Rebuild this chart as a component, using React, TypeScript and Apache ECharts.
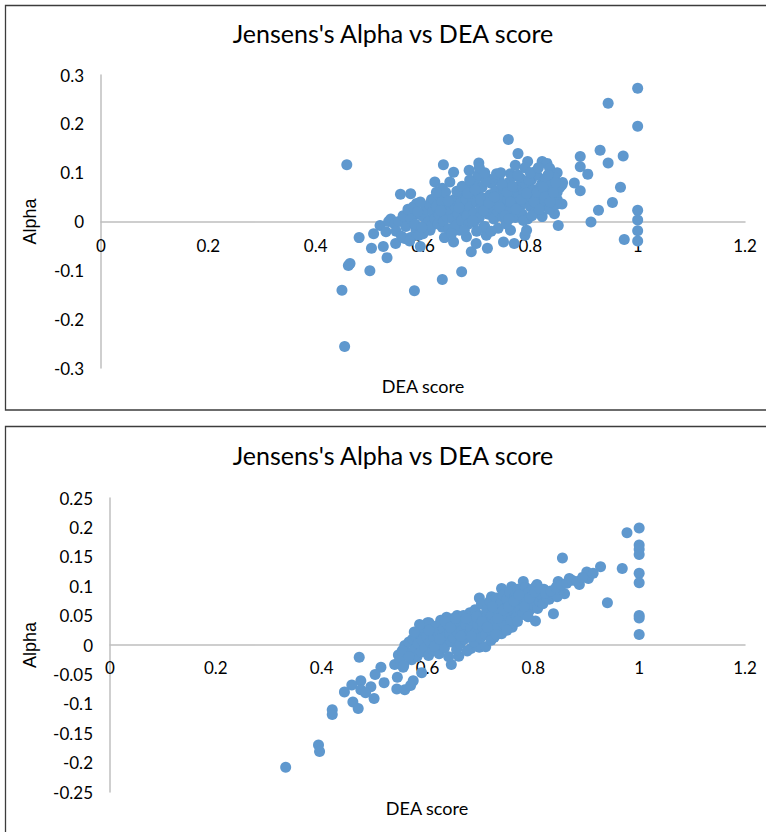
import React, { useEffect, useRef } from "react";
import * as echarts from "echarts";

const TITLE = "Jensens's Alpha vs DEA score";
const X_NAME = "DEA score";
const Y_NAME = "Alpha";

const xTicks = [0, 0.2, 0.4, 0.6, 0.8, 1, 1.2];
const yTicksTop = [-0.3, -0.2, -0.1, 0, 0.1, 0.2, 0.3];
const yTicksBottom = [-0.25, -0.2, -0.15, -0.1, -0.05, 0, 0.05, 0.1, 0.15, 0.2, 0.25];

// Top chart: [DEA score, Alpha]
const topPoints: number[][] = [
  [1.0, 0.273], [0.945, 0.242], [1.0, 0.195], [0.759, 0.168], [0.777, 0.139], [0.93, 0.146],
  [0.973, 0.134], [0.893, 0.133], [0.945, 0.12], [0.893, 0.112], [0.907, 0.097], [0.893, 0.063],
  [0.882, 0.079], [0.968, 0.07], [0.953, 0.039], [0.927, 0.023], [0.913, -0.001], [1.0, 0.023],
  [1.0, 0.003], [1.0, -0.019], [1.0, -0.04], [0.975, -0.037], [0.458, 0.116], [0.638, 0.116],
  [0.795, 0.123], [0.822, 0.123], [0.831, 0.119], [0.836, 0.109], [0.85, 0.1], [0.704, 0.12],
  [0.686, 0.105], [0.657, 0.101], [0.772, 0.115], [0.763, 0.098], [0.736, 0.09], [0.809, 0.102],
  [0.859, 0.075], [0.822, 0.079], [0.622, 0.081], [0.65, 0.081], [0.636, 0.068], [0.558, 0.056],
  [0.577, 0.057], [0.588, 0.037], [0.616, 0.045], [0.66, 0.045], [0.672, 0.048], [0.85, 0.045],
  [0.859, 0.036], [0.845, 0.016], [0.852, -0.008], [0.52, -0.008], [0.54, 0.005], [0.536, 0.0],
  [0.547, -0.005], [0.508, -0.025], [0.531, -0.021], [0.481, -0.033], [0.504, -0.055], [0.526, -0.051],
  [0.549, -0.045], [0.566, -0.035], [0.577, -0.033], [0.595, -0.051], [0.587, -0.018], [0.567, 0.01],
  [0.577, 0.022], [0.593, 0.015], [0.608, 0.003], [0.613, -0.018], [0.6, -0.025], [0.636, -0.012],
  [0.64, -0.033], [0.657, -0.042], [0.668, -0.018], [0.681, -0.031], [0.69, -0.062], [0.699, -0.045],
  [0.72, -0.055], [0.75, -0.042], [0.77, -0.045], [0.79, -0.028], [0.793, -0.018], [0.763, -0.018],
  [0.74, -0.014], [0.718, -0.028], [0.713, -0.011], [0.695, -0.001], [0.461, -0.09], [0.464, -0.086],
  [0.501, -0.101], [0.533, -0.074], [0.449, -0.141], [0.584, -0.142], [0.636, -0.119], [0.672, -0.103],
  [0.454, -0.256],
  [0.6, 0.01], [0.605, 0.025], [0.61, 0.0], [0.612, 0.035], [0.615, -0.01], [0.618, 0.02],
  [0.62, 0.045], [0.622, 0.005], [0.625, 0.03], [0.628, -0.005], [0.63, 0.015], [0.632, 0.05],
  [0.635, 0.04], [0.638, 0.0], [0.64, 0.025], [0.642, 0.06], [0.645, 0.01], [0.648, -0.015],
  [0.65, 0.035], [0.652, 0.02], [0.655, 0.005], [0.658, 0.045], [0.66, 0.03], [0.662, -0.008],
  [0.665, 0.015], [0.668, 0.055], [0.67, 0.038], [0.672, 0.002], [0.675, 0.025], [0.678, 0.065],
  [0.68, 0.045], [0.682, 0.012], [0.685, -0.005], [0.688, 0.03], [0.69, 0.075], [0.692, 0.05],
  [0.695, 0.018], [0.698, 0.085], [0.7, 0.04], [0.702, 0.06], [0.705, 0.008], [0.708, 0.028],
  [0.71, 0.07], [0.712, 0.048], [0.715, -0.01], [0.718, 0.035], [0.72, 0.088], [0.722, 0.015],
  [0.725, 0.055], [0.728, 0.078], [0.73, 0.03], [0.732, 0.005], [0.735, 0.062], [0.738, 0.042],
  [0.74, 0.02], [0.742, 0.085], [0.745, 0.05], [0.748, 0.01], [0.75, 0.068], [0.752, 0.032],
  [0.755, -0.005], [0.758, 0.045], [0.76, 0.08], [0.762, 0.022], [0.765, 0.058], [0.768, 0.092],
  [0.77, 0.038], [0.772, 0.008], [0.775, 0.07], [0.778, 0.05], [0.78, 0.028], [0.782, 0.088],
  [0.785, 0.015], [0.788, 0.06], [0.79, 0.04], [0.792, 0.075], [0.795, 0.005], [0.798, 0.052],
  [0.8, 0.03], [0.802, 0.085], [0.805, 0.065], [0.808, 0.018], [0.81, 0.045], [0.812, 0.095],
  [0.815, 0.035], [0.818, 0.07], [0.82, 0.055], [0.822, 0.01], [0.825, 0.04], [0.828, 0.088],
  [0.83, 0.062], [0.835, 0.025], [0.838, 0.075], [0.84, 0.048], [0.845, 0.09], [0.848, 0.035],
  [0.85, 0.06], [0.855, 0.07], [0.86, 0.08],
  [0.55, -0.02], [0.555, 0.0], [0.56, -0.03], [0.563, 0.012], [0.568, -0.01], [0.572, 0.025],
  [0.575, -0.04], [0.578, 0.005], [0.582, 0.03], [0.585, -0.005], [0.59, 0.02], [0.592, -0.028],
  [0.595, 0.04], [0.598, -0.012],
  [0.625, 0.06], [0.633, 0.022], [0.647, 0.042], [0.653, -0.025], [0.663, 0.062], [0.667, 0.028],
  [0.673, 0.072], [0.677, -0.018], [0.683, 0.058], [0.687, 0.085], [0.693, 0.002], [0.697, 0.065],
  [0.703, 0.095], [0.707, 0.045], [0.713, 0.022], [0.717, 0.082], [0.723, 0.038], [0.727, -0.02],
  [0.733, 0.05], [0.737, 0.098], [0.743, 0.028], [0.747, 0.075], [0.753, 0.012], [0.757, 0.06],
  [0.763, 0.04], [0.767, 0.072], [0.773, 0.025], [0.777, 0.095], [0.783, 0.045], [0.787, 0.002],
  [0.793, 0.058], [0.797, 0.085], [0.803, 0.012], [0.807, 0.04], [0.813, 0.06], [0.817, 0.025],
  [0.823, 0.07], [0.827, 0.05], [0.833, 0.095], [0.837, 0.04], [0.843, 0.06], [0.847, 0.08],
  [0.705, 0.11], [0.715, 0.1], [0.745, 0.1], [0.79, 0.11], [0.8, 0.1], [0.815, 0.11],
  [0.76, 0.005], [0.7, -0.02],
];

// Bottom chart: [DEA score, Alpha]
const bottomPoints: number[][] = [
  [1.0, 0.199], [0.977, 0.191], [1.0, 0.17], [1.0, 0.163], [1.0, 0.154], [0.855, 0.148],
  [0.968, 0.13], [0.927, 0.133], [1.0, 0.122], [1.0, 0.106], [0.94, 0.072], [1.0, 0.05],
  [1.0, 0.046], [1.0, 0.018], [0.901, 0.124], [0.904, 0.113], [0.887, 0.103], [0.868, 0.113],
  [0.847, 0.108], [0.859, 0.087], [0.838, 0.053], [0.804, 0.041], [0.781, 0.108], [0.807, 0.103],
  [0.74, 0.096], [0.759, 0.099], [0.698, 0.08], [0.721, 0.082], [0.827, 0.082], [0.76, 0.03],
  [0.74, 0.019], [0.726, 0.013], [0.698, -0.004], [0.682, -0.006], [0.659, -0.019], [0.645, -0.033],
  [0.636, 0.047], [0.603, 0.038], [0.656, 0.05], [0.557, -0.001], [0.545, -0.017], [0.538, -0.033],
  [0.554, -0.038], [0.512, -0.038], [0.501, -0.05], [0.543, -0.055], [0.573, -0.061], [0.542, -0.075],
  [0.557, -0.076], [0.518, -0.064], [0.493, -0.071], [0.471, -0.021], [0.474, -0.061], [0.457, -0.068],
  [0.443, -0.08], [0.474, -0.076], [0.483, -0.081], [0.499, -0.091], [0.459, -0.097], [0.469, -0.108],
  [0.42, -0.11], [0.42, -0.118], [0.394, -0.17], [0.396, -0.181], [0.332, -0.208], [0.589, -0.047],
  [0.568, -0.069],
  [0.56, -0.015], [0.565, 0.005], [0.57, -0.025], [0.572, 0.01], [0.575, -0.008], [0.578, 0.015],
  [0.58, -0.02], [0.582, 0.002], [0.585, 0.02], [0.588, -0.012], [0.59, 0.008], [0.592, 0.03],
  [0.595, -0.005], [0.598, 0.015], [0.6, 0.038], [0.602, -0.018], [0.605, 0.005], [0.608, 0.025],
  [0.61, -0.008], [0.612, 0.012], [0.615, 0.032], [0.618, 0.0], [0.62, 0.02], [0.622, -0.015],
  [0.625, 0.042], [0.628, 0.008], [0.63, 0.028], [0.632, -0.005], [0.635, 0.015], [0.638, 0.035],
  [0.64, -0.02], [0.642, 0.022], [0.645, 0.005], [0.648, 0.045], [0.65, 0.012], [0.652, 0.03],
  [0.655, -0.008], [0.658, 0.02], [0.66, 0.04], [0.662, 0.002], [0.665, 0.025], [0.668, 0.05],
  [0.67, 0.01], [0.672, 0.035], [0.675, -0.01], [0.678, 0.018], [0.68, 0.055], [0.682, 0.028],
  [0.685, 0.042], [0.688, 0.005], [0.69, 0.06], [0.692, 0.022], [0.695, 0.035], [0.698, 0.05],
  [0.7, 0.012], [0.702, 0.07], [0.705, 0.03], [0.708, 0.045], [0.71, 0.018], [0.712, 0.06],
  [0.715, 0.038], [0.718, 0.075], [0.72, 0.025], [0.722, 0.052], [0.725, 0.065], [0.728, 0.04],
  [0.73, 0.08], [0.732, 0.03], [0.735, 0.055], [0.738, 0.07], [0.74, 0.045], [0.742, 0.085],
  [0.745, 0.035], [0.748, 0.062], [0.75, 0.078], [0.752, 0.05], [0.755, 0.09], [0.758, 0.042],
  [0.76, 0.068], [0.762, 0.058], [0.765, 0.082], [0.768, 0.048], [0.77, 0.095], [0.772, 0.072],
  [0.775, 0.06], [0.778, 0.085], [0.78, 0.052], [0.782, 0.078], [0.785, 0.098], [0.788, 0.065],
  [0.79, 0.088], [0.792, 0.058], [0.795, 0.075], [0.798, 0.095], [0.8, 0.068], [0.802, 0.082],
  [0.805, 0.1], [0.808, 0.062], [0.81, 0.09], [0.812, 0.075], [0.815, 0.085], [0.818, 0.07],
  [0.82, 0.095], [0.825, 0.08], [0.83, 0.078], [0.835, 0.085], [0.84, 0.09], [0.845, 0.082],
  [0.85, 0.095], [0.548, -0.025], [0.552, -0.01], [0.555, -0.035],
  [0.603, 0.025], [0.613, -0.002], [0.623, 0.01], [0.633, 0.04], [0.643, 0.03], [0.653, 0.045],
  [0.663, 0.015], [0.673, 0.045], [0.683, 0.015], [0.693, 0.048], [0.703, 0.04], [0.713, 0.03],
  [0.723, 0.065], [0.733, 0.045], [0.743, 0.06], [0.753, 0.065], [0.763, 0.075], [0.773, 0.085],
  [0.783, 0.065], [0.793, 0.08], [0.803, 0.09], [0.813, 0.095], [0.823, 0.088], [0.833, 0.092],
  [0.843, 0.098], [0.853, 0.102], [0.863, 0.105], [0.873, 0.11], [0.883, 0.108], [0.893, 0.115],
  [0.913, 0.122], [0.71, -0.003], [0.72, 0.008], [0.73, 0.018], [0.75, 0.025], [0.77, 0.04],
  [0.79, 0.048], [0.585, 0.035], [0.575, 0.022], [0.565, -0.02],
];

const FONT = "Lato, 'Open Sans', sans-serif";
const NAME_FONT = "'Liberation Sans', Arial, sans-serif";
const DOT = "#5F98CE";
const AXIS = "#BFBFBF";

const fmt = (v: number) => String(Math.round(v * 1000) / 1000);

export default function App() {
  const ref = useRef<HTMLDivElement>(null);
  useEffect(() => {
    if (!ref.current) return;
    const chart = echarts.init(ref.current, null, { renderer: "svg" });
    const xAxisBase = (gridIndex: number, offset: number, margin: number) => ({
      type: "value" as const,
      gridIndex,
      min: xTicks[0],
      max: xTicks[xTicks.length - 1],
      interval: 0.2,
      offset,
      splitLine: { show: false },
      axisTick: { show: false },
      axisLine: { onZero: false, lineStyle: { color: AXIS, width: 1.5 } },
      axisLabel: { color: "#000", fontFamily: FONT, fontSize: 17, margin, formatter: fmt },
    });
    const yAxisBase = (gridIndex: number, ticks: number[], interval: number, nameGap: number) => ({
      type: "value" as const,
      gridIndex,
      min: ticks[0],
      max: ticks[ticks.length - 1],
      interval,
      splitLine: { show: false },
      axisTick: { show: false },
      axisLine: { show: true, onZero: false, lineStyle: { color: AXIS, width: 1.5 } },
      axisLabel: { color: "#000", fontFamily: FONT, fontSize: 17, margin: 17, formatter: fmt },
      name: Y_NAME,
      nameLocation: "middle" as const,
      nameRotate: 90,
      nameGap,
      nameTextStyle: { color: "#000", fontFamily: NAME_FONT, fontSize: 18 },
    });
    chart.setOption({
      animation: false,
      backgroundColor: "#fff",
      title: [
        { text: TITLE, left: 388, top: 15, textAlign: "center", textStyle: { fontFamily: FONT, fontSize: 25, fontWeight: "normal", color: "#000" } },
        { text: TITLE, left: 388, top: 437, textAlign: "center", textStyle: { fontFamily: FONT, fontSize: 25, fontWeight: "normal", color: "#000" } },
      ],
      grid: [
        { left: 101, right: 21, top: 75, height: 293 },
        { left: 110, right: 21, top: 498, height: 294 },
      ],
      xAxis: [xAxisBase(0, -146.5, 15), xAxisBase(1, -147, 14)],
      yAxis: [
        yAxisBase(0, yTicksTop, 0.1, 62),
        yAxisBase(1, yTicksBottom, 0.05, 71),
      ],
      series: [
        { type: "scatter", xAxisIndex: 0, yAxisIndex: 0, data: topPoints, symbolSize: 11, itemStyle: { color: DOT, opacity: 1 } },
        { type: "scatter", xAxisIndex: 1, yAxisIndex: 1, data: bottomPoints, symbolSize: 11, itemStyle: { color: DOT, opacity: 1 } },
      ],
      graphic: [
        { type: "rect", shape: { x: 5.5, y: 5.5, width: 820, height: 404.5 }, style: { fill: "none", stroke: "#3c3c3c", lineWidth: 1.3 }, silent: true },
        { type: "rect", shape: { x: 5.5, y: 426.5, width: 820, height: 500 }, style: { fill: "none", stroke: "#3c3c3c", lineWidth: 1.3 }, silent: true },
        { type: "text", x: 423, y: 386, style: { text: X_NAME, fontFamily: FONT, fontSize: 18, fill: "#000", align: "center", verticalAlign: "middle" } },
        { type: "text", x: 427, y: 808, style: { text: X_NAME, fontFamily: FONT, fontSize: 18, fill: "#000", align: "center", verticalAlign: "middle" } },
      ],
    });
    return () => chart.dispose();
  }, []);
  return <div ref={ref} style={{ position: "absolute", left: 0, top: 0, width: 766, height: 832 }} />;
}
